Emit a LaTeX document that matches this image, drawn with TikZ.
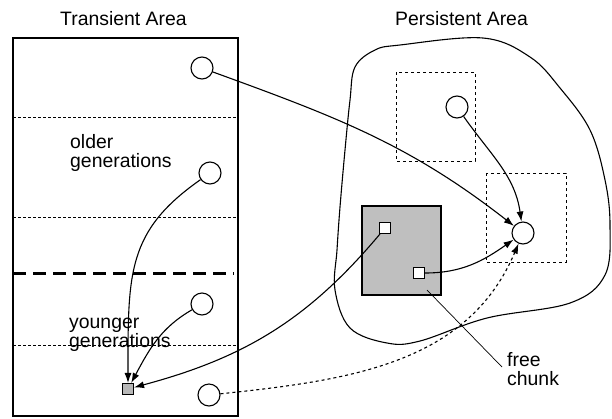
\documentclass[tikz,border=0pt]{standalone}
\usepackage{fontspec}
\setmainfont{Liberation Sans}
\usetikzlibrary{arrows.meta,calc}
\begin{document}
\begin{tikzpicture}[x=1pt,y=1pt,
  lbl/.style={inner sep=0pt,anchor=base west,font=\fontsize{19.4}{22}\selectfont},
  obj/.style={circle,draw,line width=1.1pt,fill=white,minimum size=22pt,inner sep=0pt},
  sq/.style={rectangle,draw,line width=1.1pt,fill=white,minimum size=11pt,inner sep=0pt},
  gsq/.style={sq,fill=black!28},
  conn/.style={line width=1.1pt,-{Latex[length=10pt,width=7pt]}},
  dconn/.style={conn,dash pattern=on 3pt off 3pt},
  sep/.style={line width=0.8pt,dash pattern=on 2.5pt off 2.5pt},
  dbox/.style={line width=1pt,dash pattern=on 3pt off 3pt}]
\useasboundingbox (0,0) rectangle (612,-418);
% titles
\node[lbl] (tt) at (60,-25) {Transient Area};
\node[lbl] (pt) at (395,-25) {Persistent Area};
% transient area
\draw[line width=1.1pt] (13,-38) rectangle (238,-416);
\draw[sep] (13,-117) -- (238,-117);
\draw[sep] (13,-217) -- (238,-217);
\draw[sep] (13,-345) -- (238,-345);
\draw[line width=3pt,dash pattern=on 13pt off 7pt] (13,-273) -- (234,-273);
\node[lbl] (o1) at (70,-148) {older};
\node[lbl] (o2) at (70,-167) {generations};
\node[lbl] (y1) at (69,-328) {younger};
\node[lbl] (y2) at (69,-347) {generations};
% persistent area blob
\draw[line width=1.1pt] plot[smooth cycle,tension=0.6] coordinates {
 (355,-67) (375,-50) (400,-45) (483,-38) (530,-57) (560,-88) (590,-130)
 (605,-180) (610,-225) (605,-275) (570,-303) (487,-318) (420,-341)
 (387,-343) (350,-328) (335,-290) (337,-250) (340,-207) (345,-150) (350,-100)};
\draw[dbox] (396,-72) rectangle (475,-161);
\draw[dbox] (486,-173) rectangle (566,-262);
\draw[line width=1.1pt,fill=black!25] (362,-206) rectangle (441,-295);
% objects
\node[obj] (c1) at (202,-68) {};
\node[obj] (c2) at (210,-173) {};
\node[obj] (c3) at (202,-304) {};
\node[obj] (c4) at (209,-395) {};
\node[gsq] (g) at (128,-389) {};
\node[obj] (p1) at (457,-107) {};
\node[obj] (p2) at (523,-233) {};
\node[sq] (s1) at (385,-228) {};
\node[sq] (s2) at (419,-273) {};
% free chunk label
\node[lbl] (fr) at (507,-366) {free};
\node[lbl] (ch) at (507,-385) {chunk};
\coordinate (fc) at (427,-290);
\coordinate (fe) at (502,-367);
\draw[line width=0.7pt] (fc) -- (fe);
% connectors
\draw[conn] (c1) to[out=-20,in=142] (p2);
\draw[conn] (p1) to[out=-55,in=98] (p2);
\draw[conn] (s2) to[out=0,in=-145] (p2);
\draw[dconn] (c4) to[out=6,in=-113] (p2);
\draw[conn] (s1) to[out=-130,in=15] (g);
\draw[conn] (c2) to[out=-145,in=90,out distance=90pt,in distance=110pt] (g);
\draw[conn] (c3) to[out=-150,in=62,out distance=35pt,in distance=40pt] (g);
\end{tikzpicture}
\end{document}
